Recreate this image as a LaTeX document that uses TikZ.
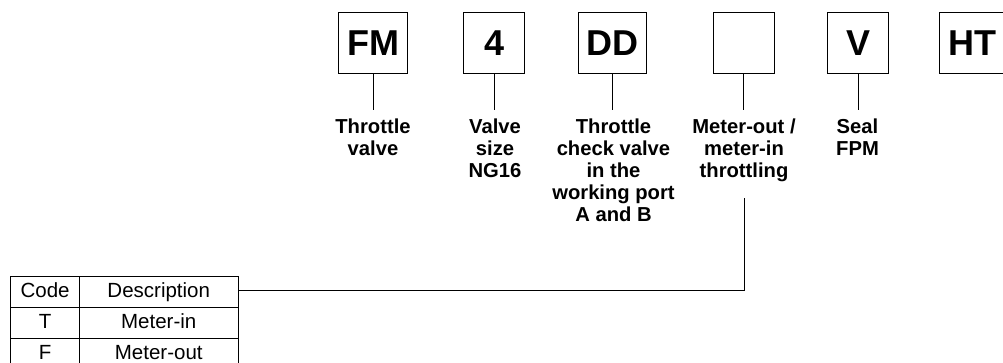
\documentclass[tikz,border=0pt]{standalone}
\usepackage{fontspec}
\setmainfont{Liberation Sans}
\usepackage{array}
\newcolumntype{C}[1]{>{\centering\arraybackslash}p{#1}}

\tikzset{
    codebox/.style={draw, line width=1.1pt, minimum width=1.83cm, minimum height=1.82cm,
        inner xsep=7pt, font=\fontsize{30.7}{36}\selectfont\bfseries},
    codetext/.style={anchor=north, align=center, inner xsep=0pt, inner ysep=7.2pt,
        font=\fontsize{17.25}{18.8}\selectfont\bfseries},
}

\begin{document}
\begin{tikzpicture}[x=0.03cm, y=-0.03cm, line width=0.85pt]
        \useasboundingbox (0, 0) rectangle (1003, 362);
        \clip (0, 0) rectangle (1003, 362);

        \foreach \x/\boxname/\code in {373/fm/FM, 494.2/size/4, 612.5/dd/DD, 743.7/mode/{}, 858/seal/V, 972/ht/HT} {
            \node[codebox] (\boxname) at (\x, 43) {\code};
        }

        \node[codetext] (labfm) at (373, 110) {Throttle\\valve};
        \node[codetext] (labsize) at (495, 110) {Valve\\size\\NG16};
        \node[codetext] (labdd) at (613.5, 110) {Throttle\\check valve\\in the\\working port\\A and B};
        \node[codetext] (labmode) at (744, 110) {Meter-out /\\meter-in\\throttling};
        \node[codetext] (labseal) at (857.5, 110) {Seal\\FPM};

        \foreach \n in {fm, size, dd, mode, seal} {
            \draw (\n.south) -- (\n.south |- lab\n.north);
        }

        \node[anchor=north west, inner sep=0pt, font=\fontsize{17.5}{21}\selectfont] (codes) at (10, 275) {%
            \renewcommand{\arraystretch}{1.222}\setlength{\tabcolsep}{0pt}\setlength{\arrayrulewidth}{0.8pt}%
            \begin{tabular}{|C{57.5pt}|C{134.9pt}|}
                \hline
                Code & Description \\\hline
                T & Meter-in \\\hline
                F & Meter-out \\\hline
            \end{tabular}%
        };
        \coordinate (codehead) at ([yshift=-13.2pt]codes.north east);
        \draw[shorten <=6.3pt] (labmode.south) |- (codehead);
    \end{tikzpicture}
\end{document}
